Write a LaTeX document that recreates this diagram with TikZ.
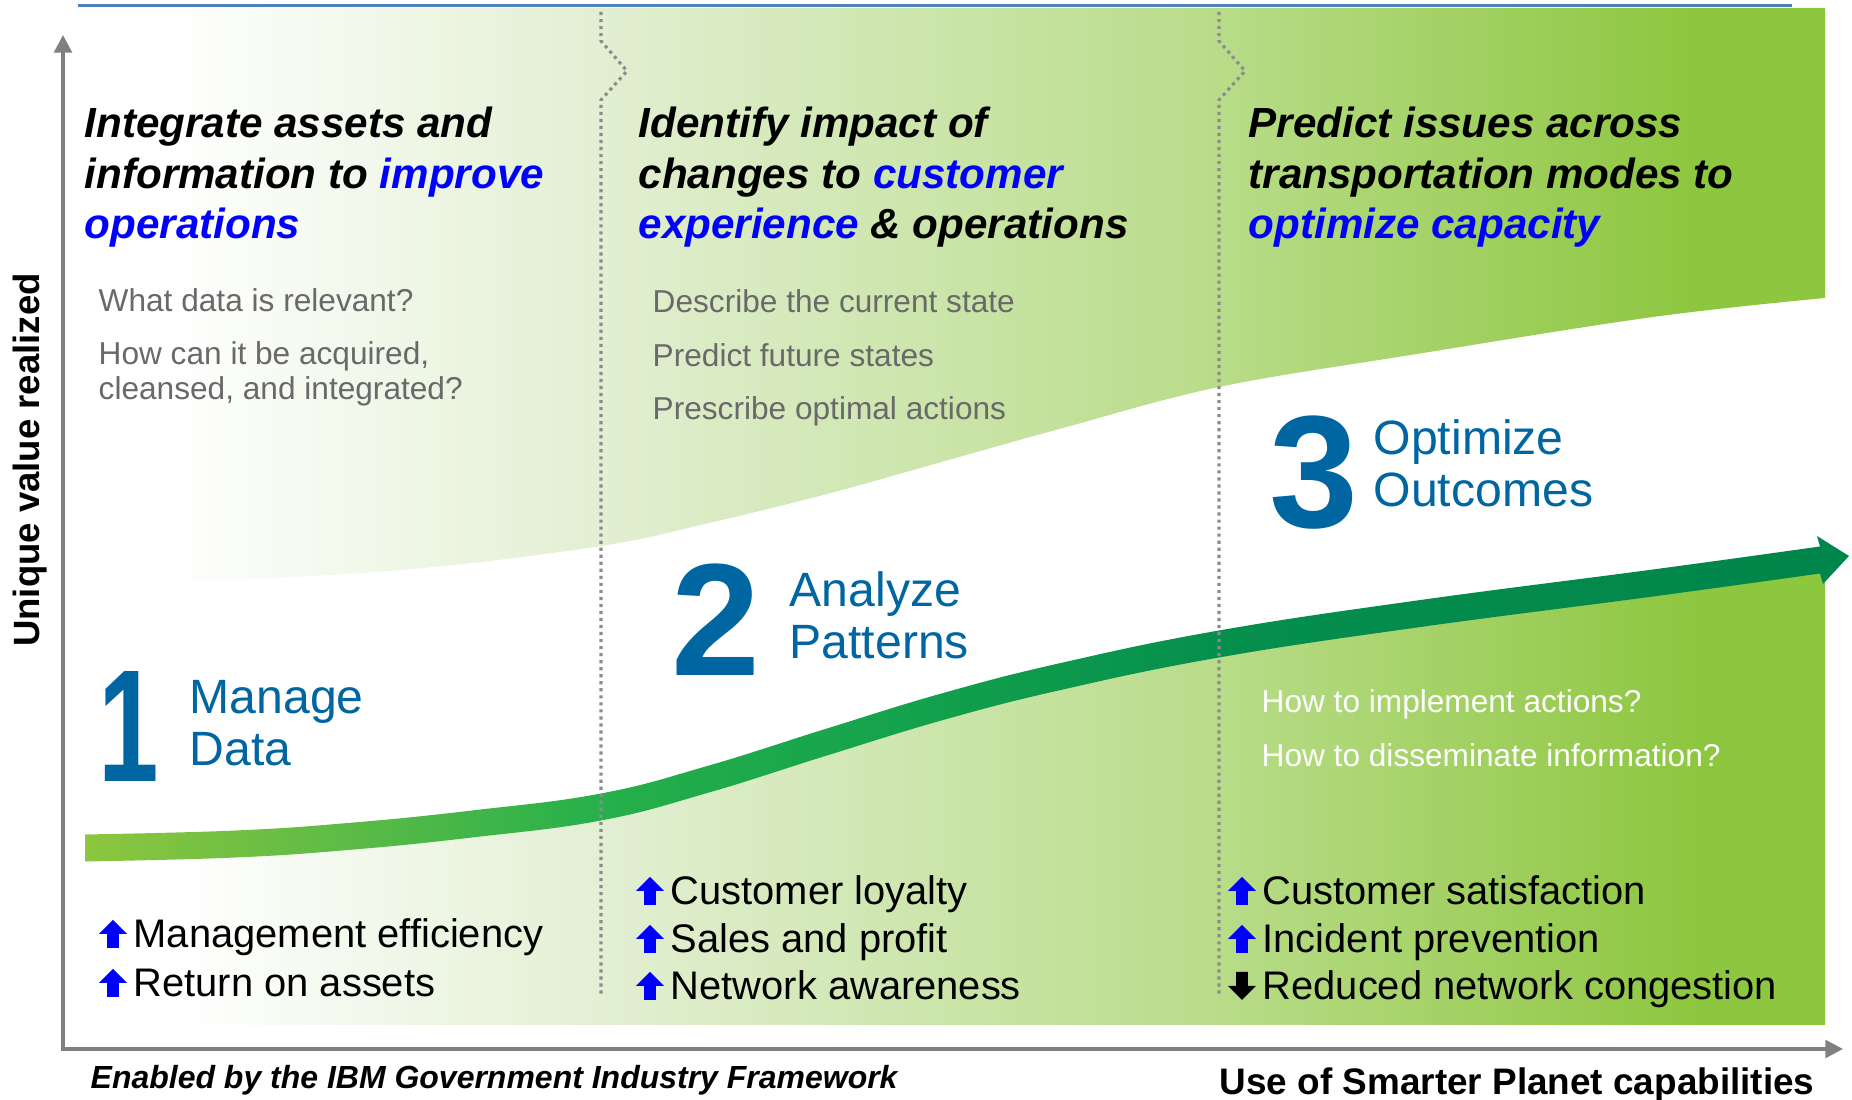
\documentclass[tikz,border=0pt]{standalone}
\usepackage{fontspec}
\setmainfont{Liberation Sans}
\usepackage{xcolor}
\usepackage{graphicx}
\usepackage{tikz}
\usetikzlibrary{
    positioning,
    arrows.meta,
    calc
}

\definecolor{stageblue}{RGB}{0,102,161}
\definecolor{askgray}{RGB}{105,105,105}
\definecolor{rulegray}{RGB}{140,140,140}
\definecolor{axisgray}{RGB}{128,128,128}
\definecolor{topblue}{RGB}{79,129,189}
\definecolor{leafgreen}{RGB}{141,198,63}
\definecolor{fieldA}{RGB}{226,239,210}
\definecolor{fieldB}{RGB}{184,220,136}
\definecolor{arrowA}{RGB}{141,198,63}
\definecolor{arrowB}{RGB}{92,187,70}
\definecolor{arrowC}{RGB}{38,176,75}
\definecolor{arrowD}{RGB}{20,162,76}
\definecolor{arrowE}{RGB}{5,143,77}
\definecolor{arrowF}{RGB}{0,133,74}

% white -> green fields behind the columns
\pgfdeclarehorizontalshading{fieldshade}{100bp}{color(0bp)=(white); color(27.8bp)=(white);
  color(40.1bp)=(fieldA); color(57.8bp)=(fieldB); color(71.4bp)=(leafgreen); color(100bp)=(leafgreen)}
% value curve, light to dark green
\pgfdeclarehorizontalshading{arrowshade}{100bp}{color(0bp)=(arrowA); color(25bp)=(arrowA);
  color(32.5bp)=(arrowB); color(39.6bp)=(arrowC); color(48.1bp)=(arrowD); color(57.2bp)=(arrowE);
  color(75bp)=(arrowF); color(100bp)=(arrowF)}

\begin{document}
\begin{tikzpicture}[
  goal/.style={anchor=base west, inner sep=0pt, align=left,
               font=\fontsize{12}{14.4}\selectfont\bfseries\itshape},
  ask/.style={anchor=base west, inner sep=0pt, align=left, text=askgray,
              font=\fontsize{9}{10}\selectfont},
  stagenum/.style={anchor=base west, inner sep=0pt, text=stageblue,
                   font=\fontsize{45.5}{46}\selectfont\bfseries},
  stagelbl/.style={anchor=base west, inner sep=0pt, align=left, text=stageblue,
                   font=\fontsize{13.7}{14.8}\selectfont},
  gain/.style={anchor=base west, inner sep=0pt, font=\fontsize{11.35}{13.6}\selectfont},
  divider/.style={draw=rulegray, line width=0.9pt, dash pattern=on 0.9pt off 1.1pt},
  axisline/.style={draw=axisgray, line width=1pt,
                   arrows={Triangle[length=5pt,width=5pt]-Triangle[length=5pt,width=5pt]}},
  upmark/.pic={\fill[blue] (-0.058,0) -- (0.058,0) -- (0.058,0.14) -- (0.14,0.14)
                 -- (0,0.28) -- (-0.14,0.14) -- (-0.058,0.14) -- cycle;},
  downmark/.pic={\fill[black] (-0.058,0.28) -- (0.058,0.28) -- (0.058,0.14) -- (0.14,0.14)
                 -- (0,0) -- (-0.14,0.14) -- (-0.058,0.14) -- cycle;}]

  \useasboundingbox (0,0) rectangle (18.52,11);

  % Upper field, bounded below by the rising edge
  \shade[shading=fieldshade] (0.70,10.92) -- (18.25,10.92)
    -- plot[smooth, tension=0.6] coordinates {(18.25,8.02) (16.53,7.83) (14.17,7.46)
       (12.19,7.13) (10.63,6.72) (9.45,6.39) (8.27,6.06) (7.09,5.77) (6.01,5.54)
       (4.13,5.31) (2.12,5.19) (0.70,5.15)} -- cycle;

  % Lower field under the curve
  \shade[shading=fieldshade] (0.85,0.75) -- (18.25,0.75)
    -- plot[smooth, tension=0.7] coordinates {(18.25,5.40) (16.53,5.17) (14.17,4.86)
       (12.19,4.56) (10.63,4.24) (9.45,3.94) (8.27,3.58) (7.09,3.21) (6.01,2.93)
       (4.72,2.76) (3.54,2.64) (2.36,2.56) (0.85,2.52)} -- cycle;

  % Top rule
  \draw[topblue, line width=0.03cm] (0.78,10.94) -- (17.92,10.94);

  % Value curve with its head
  \shade[shading=arrowshade]
    plot[smooth, tension=0.7] coordinates {(0.85,2.655) (2.36,2.695) (3.54,2.775)
       (4.72,2.895) (6.01,3.065) (7.09,3.345) (8.27,3.715) (9.45,4.075) (10.63,4.375)
       (12.19,4.695) (14.17,4.995) (16.53,5.305) (18.20,5.535)}
    -- (18.17,5.64) -- (18.49,5.44) -- (18.23,5.16)
    -- plot[smooth, tension=0.7] coordinates {(18.20,5.265) (16.53,5.035) (14.17,4.725)
       (12.19,4.425) (10.63,4.105) (9.45,3.805) (8.27,3.445) (7.09,3.075) (6.01,2.795)
       (4.72,2.625) (3.54,2.505) (2.36,2.425) (0.85,2.385)} -- cycle;

  % Column dividers
  \draw[divider] (6.01,10.88) -- (6.01,10.59) -- (6.27,10.29) -- (6.01,10.00) -- (6.01,1.04);
  \draw[divider] (12.19,10.88) -- (12.19,10.59) -- (12.45,10.29) -- (12.19,10.00) -- (12.19,1.04);

  % Axes
  \coordinate (origin) at (0.63,0.51);
  \coordinate (ytop) at (0.63,10.65);
  \coordinate (xend) at (18.43,0.51);
  \draw[axisline] (ytop) -- (origin) -- (xend);

  \node[rotate=90, inner sep=0pt, font=\fontsize{10.4}{12}\selectfont\bfseries] (yname)
    at (0.30,6.40) {Unique value realized};
  \node[anchor=base west, inner sep=0pt, font=\fontsize{9.1}{11}\selectfont\bfseries\itshape] (xnote)
    at (0.90,0.11) {Enabled by the IBM Government Industry Framework};
  \node[anchor=base west, inner sep=0pt, font=\fontsize{10.5}{12}\selectfont\bfseries] (xname)
    at (12.19,0.05) {Use of Smarter Planet capabilities};

  % Column headings (anchored on their last line)
  \node[goal] (goal1) at (0.84,8.61)
    {Integrate assets and\\information to \textcolor{blue}{improve}\\\textcolor{blue}{operations}};
  \node[goal] (goal2) at (6.38,8.61)
    {Identify impact of\\changes to \textcolor{blue}{customer}\\\textcolor{blue}{experience} \& operations};
  \node[goal] (goal3) at (12.48,8.61)
    {Predict issues across\\transportation modes to\\\textcolor{blue}{optimize capacity}};

  % Questions
  \node[ask] (ask1a) at (0.98,7.88) {What data is relevant?};
  \node[ask] (ask1b) at (0.98,7.00) {How can it be acquired,\\cleansed, and integrated?};
  \node[ask, font=\fontsize{9}{15.3}\selectfont] (ask2) at (6.52,6.80)
    {Describe the current state\\Predict future states\\Prescribe optimal actions};
  \node[ask, text=white, font=\fontsize{9}{15.6}\selectfont] (ask3) at (12.61,3.33)
    {How to implement actions?\\How to disseminate information?};

  % Stages
  \node[stagenum] (num1) at (0.98,3.18) {\scalebox{0.68}[1]{1}};
  \node[stagelbl] (lbl1) at (1.89,3.34) {Manage\\Data};
  \node[stagenum] (num2) at (6.71,4.24) {2};
  \node[stagelbl] (lbl2) at (7.89,4.41) {Analyze\\Patterns};
  \node[stagenum] (num3) at (12.69,5.72) {3};
  \node[stagelbl] (lbl3) at (13.73,5.93) {Optimize\\Outcomes};

  % Benefits
  \node[gain] (g11) at (1.33,1.52) {Management efficiency};
  \node[gain] (g12) at (1.33,1.03) {Return on assets};
  \node[gain] (g21) at (6.70,1.95) {Customer loyalty};
  \node[gain] (g22) at (6.70,1.47) {Sales and profit};
  \node[gain] (g23) at (6.70,1.00) {Network awareness};
  \node[gain] (g31) at (12.62,1.95) {Customer satisfaction};
  \node[gain] (g32) at (12.62,1.47) {Incident prevention};
  \node[gain] (g33) at (12.62,1.00) {Reduced network congestion};

  \foreach \g in {g11,g12,g21,g22,g23,g31,g32}
    \pic at ([xshift=-0.20cm]\g.base west) {upmark};
  \pic at ([xshift=-0.20cm]g33.base west) {downmark};
\end{tikzpicture}
\end{document}
